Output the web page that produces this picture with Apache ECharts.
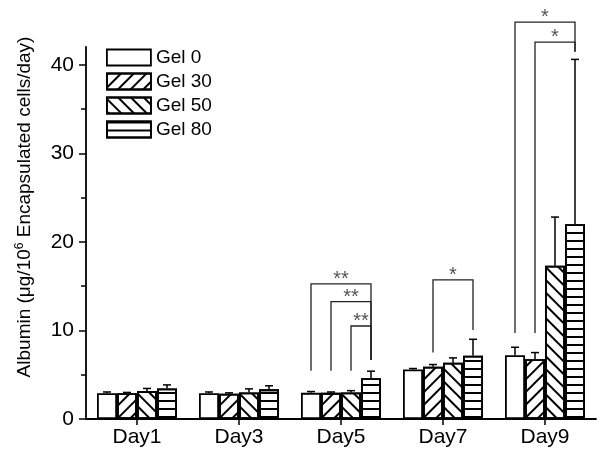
<!DOCTYPE html>
<html><head><meta charset="utf-8">
<script src="https://cdn.jsdelivr.net/npm/echarts@6/dist/echarts.min.js"></script>
<style>html,body{margin:0;padding:0;background:#fff}#c{width:600px;height:460px}</style>
</head><body><div id="c"></div>
<script>
// ---- data ----
const categories = ['Day1', 'Day3', 'Day5', 'Day7', 'Day9'];
const seriesNames = ['Gel 0', 'Gel 30', 'Gel 50', 'Gel 80'];
const gel0 = [2.9, 2.9, 2.95, 5.6, 7.2];
const gel0Err = [0.15, 0.15, 0.15, 0.1, 0.9];
const gel30 = [2.9, 2.85, 2.95, 5.9, 6.75];
const gel30Err = [0.1, 0.1, 0.1, 0.25, 0.75];
const gel50 = [3.15, 3.0, 3.0, 6.35, 17.3];
const gel50Err = [0.3, 0.4, 0.2, 0.55, 5.5];
const gel80 = [3.45, 3.35, 4.6, 7.15, 22.0];
const gel80Err = [0.4, 0.4, 0.8, 1.85, 18.6];
const yTicks = [0, 10, 20, 30, 40];
const yMinorTicks = [5, 15, 25, 35];
// [categoryIndex, leftSeries, rightSeries, bracketTop, leftLegBottom, rightLegBottom]
const brackets = [
  [2, 0, 3, 15.25, 5.45, 6.65],
  [2, 1, 3, 13.25, 5.45, 6.65],
  [2, 2, 3, 10.5, 5.45, 6.65],
  [3, 1, 3, 15.7, 7.5, 10.05],
  [4, 0, 3, 44.8, 9.7, 41.45],
  [4, 1, 3, 42.55, 9.7, 41.45]
];
const bracketLabels = ['**', '**', '**', '*', '*', '*'];

// ---- styling ----
const FONT = '"Liberation Sans", Arial, Helvetica, sans-serif';
const BW = 20;
const values = [gel0, gel30, gel50, gel80];
const errs = [gel0Err, gel30Err, gel50Err, gel80Err];
const decals = [
  null,
  {symbol: 'rect', symbolSize: 1, dashArrayX: [1, 0], dashArrayY: [1.6, 7], rotation: -Math.PI / 4, color: '#000'},
  {symbol: 'rect', symbolSize: 1, dashArrayX: [1, 0], dashArrayY: [1.6, 7], rotation: Math.PI / 4, color: '#000'},
  {symbol: 'rect', symbolSize: 1, dashArrayX: [1, 0], dashArrayY: [1.5, 5.8], rotation: 0, color: '#000'}
];

const barSeries = seriesNames.map((n, s) => {
  const itemStyle = {color: '#fff', borderColor: '#000', borderWidth: 1.8};
  if (decals[s]) itemStyle.decal = decals[s];
  return {
    name: n, type: 'bar', data: values[s], barWidth: BW, barGap: '0%', barCategoryGap: '20%',
    itemStyle: itemStyle, emphasis: {disabled: true}, silent: true, z: 2
  };
});

const errData = [];
values.forEach((v, s) => v.forEach((val, i) => errData.push([i, val, errs[s][i], s])));

const chart = echarts.init(document.getElementById('c'), null, {renderer: 'canvas'});
chart.setOption({
  animation: false,
  backgroundColor: '#fff',
  textStyle: {fontFamily: FONT},
  grid: {left: 86, right: 4, top: 47, bottom: 41, containLabel: false, outerBoundsMode: 'none'},
  legend: {
    data: seriesNames, orient: 'vertical', left: 101, top: 43,
    itemWidth: 44, itemHeight: 16, itemGap: 5, icon: 'rect',
    itemStyle: {borderColor: '#000', borderWidth: 1.8},
    textStyle: {fontSize: 19, color: '#000', fontFamily: FONT},
    selectedMode: false
  },
  xAxis: {
    type: 'category', data: categories, boundaryGap: true,
    axisLine: {show: true, lineStyle: {color: '#000', width: 1.8}},
    axisTick: {show: true, alignWithLabel: true, length: 6, lineStyle: {color: '#000', width: 1.5}},
    axisLabel: {fontSize: 21, color: '#000', margin: 8, fontFamily: FONT},
    splitLine: {show: false}
  },
  yAxis: [{
    type: 'value', min: 0, max: 42,
    name: '{a|Albumin (μg/10}{s|6}{a| Encapsulated cells/day)}',
    nameLocation: 'middle', nameGap: 50, nameRotate: 90,
    nameTextStyle: {
      padding: [0, 0, 0, 52],
      rich: {a: {fontSize: 19, color: '#000', fontFamily: FONT, lineHeight: 22},
             s: {fontSize: 12, color: '#000', fontFamily: FONT, verticalAlign: 'top', lineHeight: 22}}
    },
    axisLine: {show: true, lineStyle: {color: '#000', width: 1.8}},
    axisTick: {show: true, length: 7, customValues: yTicks, lineStyle: {color: '#000', width: 1.5}},
    axisLabel: {show: true, customValues: yTicks, fontSize: 21, color: '#000', margin: 12, fontFamily: FONT},
    splitLine: {show: false}
  }, {
    type: 'value', min: 0, max: 42, position: 'left',
    axisLine: {show: false},
    axisTick: {show: true, length: 5, customValues: yMinorTicks, lineStyle: {color: '#000', width: 1.5}},
    axisLabel: {show: false},
    splitLine: {show: false}
  }],
  series: barSeries.concat([{
    name: 'errors', type: 'custom', data: errData, z: 3, silent: true, clip: false,
    renderItem: function (params, api) {
      const base = api.coord([api.value(0), api.value(1)]);
      const top = api.coord([api.value(0), api.value(1) + api.value(2)]);
      const x = base[0] + (api.value(3) - 1.5) * BW;
      const st = {stroke: '#000', lineWidth: 1.5};
      return {type: 'group', children: [
        {type: 'line', shape: {x1: x, y1: base[1], x2: x, y2: top[1]}, style: st},
        {type: 'line', shape: {x1: x - 4, y1: top[1], x2: x + 4, y2: top[1]}, style: st}
      ]};
    }
  }, {
    name: 'brackets', type: 'custom', data: brackets, z: 4, silent: true, clip: false,
    renderItem: function (params, api) {
      const cat = api.value(0);
      const xc = api.coord([cat, 0])[0];
      const xl = xc + (api.value(1) - 1.5) * BW;
      const xr = xc + (api.value(2) - 1.5) * BW;
      const yt = api.coord([cat, api.value(3)])[1];
      const ybl = api.coord([cat, api.value(4)])[1];
      const ybr = api.coord([cat, api.value(5)])[1];
      return {type: 'group', children: [
        {type: 'polyline', shape: {points: [[xl, ybl], [xl, yt], [xr, yt], [xr, ybr]]},
         style: {stroke: '#222', lineWidth: 1.3, fill: null}},
        {type: 'text', style: {text: bracketLabels[params.dataIndex], x: (xl + xr) / 2, y: yt - 4.5,
         align: 'center', verticalAlign: 'middle', fontSize: 20, fill: '#555', fontFamily: FONT}}
      ]};
    }
  }])
});
</script>
</body></html>
